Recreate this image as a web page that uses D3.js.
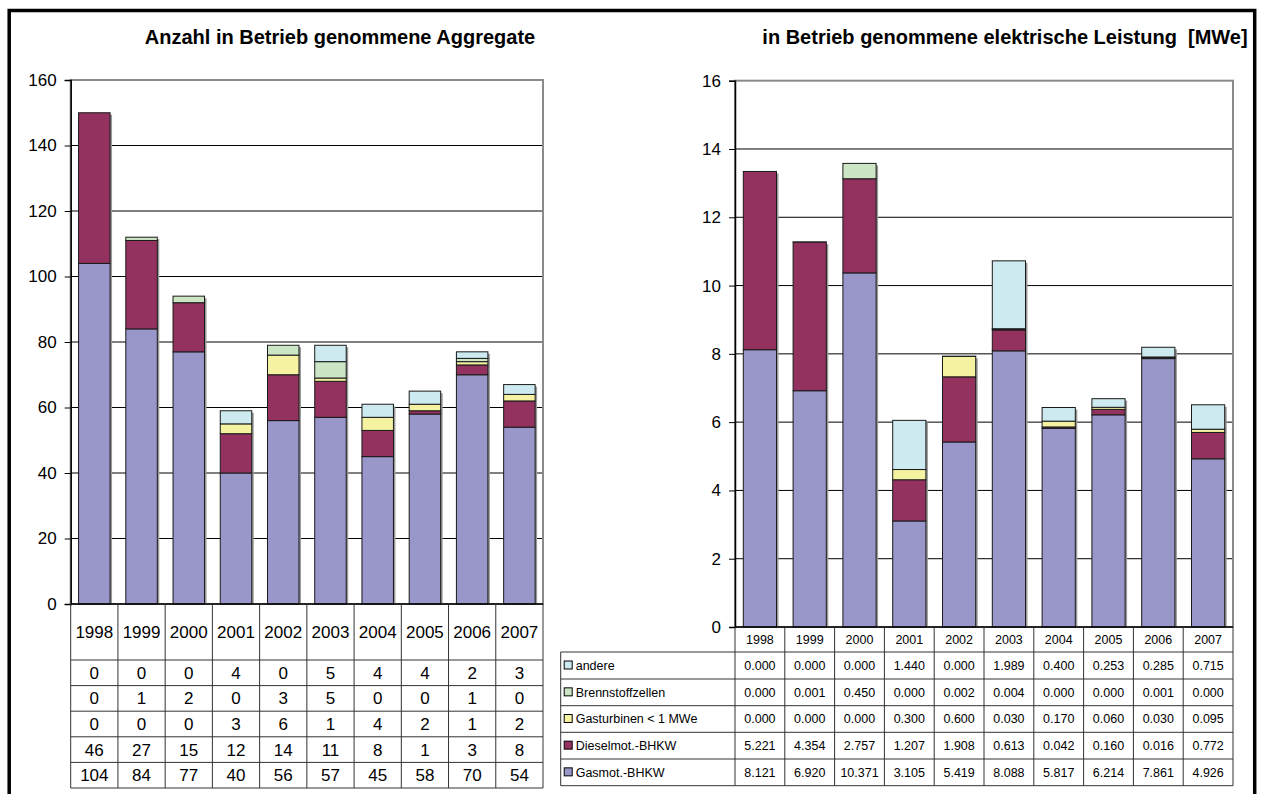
<!DOCTYPE html>
<html><head><meta charset="utf-8">
<script src="https://cdn.jsdelivr.net/npm/d3@7"></script>
<style>
body{margin:0;background:#fff}
text{font-family:"Liberation Sans",Arial,sans-serif;fill:#000}
</style>
</head><body>
<svg id="c" width="1262" height="794"></svg>
<script>
// ---------- data ----------
const years = ["1998","1999","2000","2001","2002","2003","2004","2005","2006","2007"];
const seriesKeys = ["gasmot","diesel","gasturb","brenn","andere"];
const seriesLabels = ["Gasmot.-BHKW","Dieselmot.-BHKW","Gasturbinen < 1 MWe","Brennstoffzellen","andere"];
const seriesColors = ["#9996C9","#94325F","#F5F3A2","#CBE5C5","#CDEAF0"];

// Anzahl (count)
const countGasmot  = [104,84,77,40,56,57,45,58,70,54];
const countDiesel  = [46,27,15,12,14,11,8,1,3,8];
const countGasturb = [0,0,0,3,6,1,4,2,1,2];
const countBrenn   = [0,1,2,0,3,5,0,0,1,0];
const countAndere  = [0,0,0,4,0,5,4,4,2,3];
const countTicks = [0,20,40,60,80,100,120,140,160];

// Leistung (MWe)
const powerGasmot  = [8.121,6.920,10.371,3.105,5.419,8.088,5.817,6.214,7.861,4.926];
const powerDiesel  = [5.221,4.354,2.757,1.207,1.908,0.613,0.042,0.160,0.016,0.772];
const powerGasturb = [0.000,0.000,0.000,0.300,0.600,0.030,0.170,0.060,0.030,0.095];
const powerBrenn   = [0.000,0.001,0.450,0.000,0.002,0.004,0.000,0.000,0.001,0.000];
const powerAndere  = [0.000,0.000,0.000,1.440,0.000,1.989,0.400,0.253,0.285,0.715];
const powerTicks = [0,2,4,6,8,10,12,14,16];

const titleLeft = "Anzahl in Betrieb genommene Aggregate";
const titleRight = "in Betrieb genommene elektrische Leistung  [MWe]";

// ---------- drawing ----------
const svg = d3.select("#c");

function build(arrs){
  return years.map((yr,i)=>{
    const o={year:yr};
    seriesKeys.forEach((k,j)=>o[k]=arrs[j][i]);
    return o;
  });
}

function chart(o){
  const g = svg.append("g");
  const x = d3.scaleBand().domain(years).range([o.x0,o.x1]).paddingInner(1/3).paddingOuter(1/6);
  const y = d3.scaleLinear().domain([0,o.max]).range([o.y0,o.y1]);
  const step = x.step();

  // gridlines
  g.selectAll(".grid").data(o.ticks.filter(t=>t>0 && t<o.max)).join("line")
    .attr("x1",o.x0).attr("x2",o.x1).attr("y1",d=>y(d)).attr("y2",d=>y(d))
    .attr("stroke","#000").attr("stroke-width",1);
  // plot border
  g.append("rect").attr("x",o.x0).attr("y",y(o.max)).attr("width",o.x1-o.x0).attr("height",o.y0-y(o.max))
    .attr("fill","none").attr("stroke","#8a8a8a").attr("stroke-width",2);

  const data = build(o.series);
  const stack = d3.stack().keys(seriesKeys)(data);
  const totals = data.map(d=>d3.sum(seriesKeys,k=>d[k]));

  // shadows
  g.selectAll(".sh").data(data).join("rect")
    .attr("x",(d)=>x(d.year)+2).attr("width",x.bandwidth())
    .attr("y",(d,i)=>y(totals[i])+2).attr("height",(d,i)=>o.y0-y(totals[i])-2)
    .attr("fill","#9a9a9a");

  stack.forEach((s,j)=>{
    g.selectAll(null).data(s).join("rect")
      .attr("x",d=>x(d.data.year)).attr("width",x.bandwidth())
      .attr("y",d=>y(d[1])).attr("height",d=>y(d[0])-y(d[1]))
      .attr("fill",seriesColors[j]).attr("stroke","#1a1a1a").attr("stroke-width",1);
  });

  // y axis
  const ax = g.append("g").attr("transform",`translate(${o.x0},0)`)
    .call(d3.axisLeft(y).tickValues(o.ticks).tickSize(6).tickPadding(8).tickFormat(d3.format("d")));
  ax.select(".domain").attr("stroke","#000").attr("stroke-width",1.5);
  ax.selectAll(".tick line").attr("stroke","#000");
  ax.selectAll("text").style("font-size",o.axisFont+"px").attr("fill","#000");
  // x axis baseline
  g.append("line").attr("x1",o.x0).attr("x2",o.x1).attr("y1",o.y0).attr("y2",o.y0)
    .attr("stroke","#000").attr("stroke-width",1.5);

  // title
  g.append("text").attr("x",o.titleX).attr("y",o.titleY).attr("text-anchor","middle")
    .style("font-size",o.titleFont+"px").style("font-weight","bold").style("white-space","pre").text(o.title);

  // data table
  const t = o.table;
  const lineC = "#333";
  const boundaries = d3.range(years.length+1).map(i=>o.x0+i*step);
  g.selectAll(null).data(boundaries).join("line")
    .attr("x1",d=>d).attr("x2",d=>d).attr("y1",o.y0).attr("y2",t.rows[t.rows.length-1])
    .attr("stroke",lineC).attr("stroke-width",1);
  g.selectAll(null).data(years).join("text")
    .attr("x",d=>x(d)+x.bandwidth()/2).attr("y",(o.y0+t.rows[0])/2)
    .attr("dy","0.35em").attr("text-anchor","middle").style("font-size",t.font+"px").text(d=>d);
  g.selectAll(null).data(t.rows).join("line")
    .attr("x1",t.legendX).attr("x2",o.x1)
    .attr("y1",d=>d).attr("y2",d=>d).attr("stroke",lineC).attr("stroke-width",1);
  if(t.legendX < o.x0){
    g.append("line").attr("x1",t.legendX).attr("x2",t.legendX).attr("y1",t.rows[0]).attr("y2",t.rows[t.rows.length-1])
      .attr("stroke",lineC);
  }
  const order = [4,3,2,1,0];
  order.forEach((j,r)=>{
    const yc = (t.rows[r]+t.rows[r+1])/2;
    g.selectAll(null).data(o.series[j]).join("text")
      .attr("x",(d,i)=>x(years[i])+x.bandwidth()/2).attr("y",yc).attr("dy","0.35em")
      .attr("text-anchor","middle").style("font-size",t.font+"px").text(d=>t.fmt(d));
    if(t.legend){
      g.append("rect").attr("x",t.legendX+3.5).attr("y",yc-4.5).attr("width",8).attr("height",8)
        .attr("fill",seriesColors[j]).attr("stroke","#000").attr("stroke-width",1);
      g.append("text").attr("x",t.legendX+15).attr("y",yc).attr("dy","0.35em")
        .style("font-size",t.font+"px").text(seriesLabels[j]);
    }
  });
}

chart({
  x0:70.7, x1:543, y0:604, y1:80, max:160, ticks:countTicks, axisFont:17,
  series:[countGasmot,countDiesel,countGasturb,countBrenn,countAndere],
  title:titleLeft, titleX:340, titleY:44, titleFont:20,
  table:{rows:[660,685.6,711.2,736.8,762.4,788], font:17, legendX:70.7, legend:false, fmt:d3.format("d")}
});

chart({
  x0:735, x1:1233, y0:627, y1:80.7, max:16, ticks:powerTicks, axisFont:17,
  series:[powerGasmot,powerDiesel,powerGasturb,powerBrenn,powerAndere],
  title:titleRight, titleX:1005, titleY:44, titleFont:20,
  table:{rows:[652,679,705.7,732.3,759,785.7], font:12.5, legendX:560.7, legend:true, fmt:d3.format(".3f")}
});

// outer frame
svg.append("rect").attr("x",9.2).attr("y",10.5).attr("width",1245.5).attr("height",830)
  .attr("fill","none").attr("stroke","#000").attr("stroke-width",3.5);
</script>
</body></html>
